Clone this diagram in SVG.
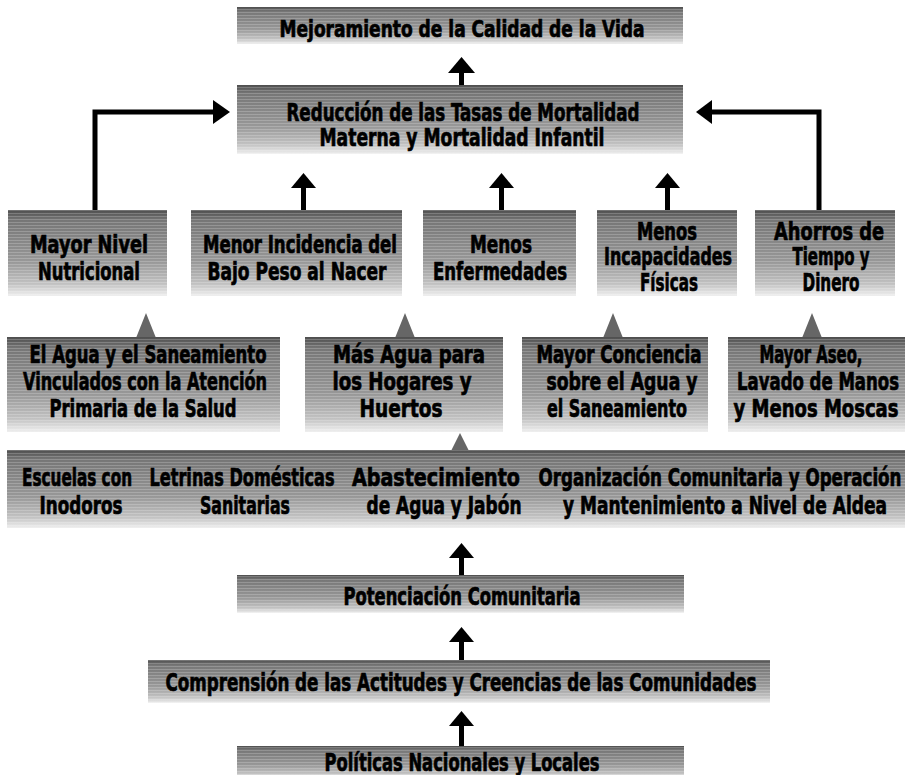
<svg xmlns="http://www.w3.org/2000/svg" width="905" height="775" viewBox="0 0 905 775">
  <defs>
    <!-- screened grey fill used by every box: dark top edge fading out at the bottom -->
    <linearGradient id="screen" x1="0" y1="0" x2="0" y2="1">
      <stop offset="0" stop-color="#4e4e4e"/>
      <stop offset="0.12" stop-color="#767676"/>
      <stop offset="0.6" stop-color="#989898"/>
      <stop offset="0.86" stop-color="#c2c2c2"/>
      <stop offset="1" stop-color="#efefef"/>
    </linearGradient>
    <pattern id="lines" width="4" height="3" patternUnits="userSpaceOnUse">
      <rect width="4" height="1" fill="#ffffff" fill-opacity="0.2"/>
    </pattern>
  </defs>
  <style>
    .box { fill: url(#screen); }
    .tex { fill: url(#lines); }
    .t { font-family: 'Liberation Sans Narrow', 'DejaVu Sans Condensed', 'Liberation Sans', sans-serif; font-weight: bold; font-size: 25px; fill: #000; stroke: #000; stroke-width: 0.7; text-anchor: middle; }
    .t.s { font-size: 23px; }
    .arr { fill: #000; }
    .line { fill: none; stroke: #000; stroke-width: 5; }
    .tri { fill: #666666; }
  </style>
  <rect width="905" height="775" fill="#ffffff"/>

  <!-- connectors -->
  <g id="connectors">
    <!-- top level -->
    <rect class="arr" x="459" y="70" width="5" height="16"/>
    <polygon class="arr" points="461.5,57 448,73 475,73"/>
    <!-- elbow from Mayor Nivel Nutricional -->
    <path class="line" d="M95,211 V112 H215"/>
    <polygon class="arr" points="230,112 213,100 213,124"/>
    <!-- elbow from Ahorros de Tiempo y Dinero -->
    <path class="line" d="M819,211 V112 H710"/>
    <polygon class="arr" points="696,112 712,100 712,124"/>
    <!-- row 3 up arrows -->
    <rect class="arr" x="301" y="185" width="5" height="26"/>
    <polygon class="arr" points="303.5,173 291,188 316,188"/>
    <rect class="arr" x="499" y="185" width="5" height="26"/>
    <polygon class="arr" points="501.5,173 489,188 514,188"/>
    <rect class="arr" x="665" y="185" width="5" height="26"/>
    <polygon class="arr" points="667.5,173 655,188 680,188"/>
    <!-- grey pointers under row 3 -->
    <polygon class="tri" points="146,313 136,338 156,338"/>
    <polygon class="tri" points="405,313 395,338 415,338"/>
    <polygon class="tri" points="613,313 603,338 623,338"/>
    <polygon class="tri" points="812,313 802,338 822,338"/>
    <!-- grey pointer under row 4 -->
    <polygon class="tri" points="460,433 451,451 469,451"/>
    <!-- lower chain -->
    <rect class="arr" x="459" y="555" width="5" height="21"/>
    <polygon class="arr" points="461.5,543 449,558 474,558"/>
    <rect class="arr" x="459" y="640" width="5" height="22"/>
    <polygon class="arr" points="461.5,627 449,642 474,642"/>
    <rect class="arr" x="459" y="724" width="5" height="23"/>
    <polygon class="arr" points="461.5,711 449,726 474,726"/>
  </g>

  <g id="calidad-vida">
    <rect class="box" x="237" y="7" width="446" height="37"/>
    <rect class="tex" x="237" y="7" width="446" height="37"/>
    <text class="t s" x="462" y="37" textLength="365" lengthAdjust="spacingAndGlyphs">Mejoramiento de la Calidad de la Vida</text>
  </g>

  <g id="reduccion-mortalidad">
    <rect class="box" x="237" y="85" width="446" height="69"/>
    <rect class="tex" x="237" y="85" width="446" height="69"/>
    <text class="t" x="463" y="121" textLength="353" lengthAdjust="spacingAndGlyphs">Reducción de las Tasas de Mortalidad</text>
    <text class="t" x="462" y="146" textLength="285" lengthAdjust="spacingAndGlyphs">Materna y Mortalidad Infantil</text>
  </g>

  <g id="nivel-nutricional">
    <rect class="box" x="8" y="210" width="159" height="86"/>
    <rect class="tex" x="8" y="210" width="159" height="86"/>
    <text class="t" x="89" y="253" textLength="118" lengthAdjust="spacingAndGlyphs">Mayor Nivel</text>
    <text class="t" x="89" y="280" textLength="102" lengthAdjust="spacingAndGlyphs">Nutricional</text>
  </g>

  <g id="bajo-peso">
    <rect class="box" x="191" y="210" width="211" height="86"/>
    <rect class="tex" x="191" y="210" width="211" height="86"/>
    <text class="t" x="300" y="253" textLength="194" lengthAdjust="spacingAndGlyphs">Menor Incidencia del</text>
    <text class="t" x="297" y="280" textLength="179" lengthAdjust="spacingAndGlyphs">Bajo Peso al Nacer</text>
  </g>

  <g id="enfermedades">
    <rect class="box" x="423" y="210" width="153" height="86"/>
    <rect class="tex" x="423" y="210" width="153" height="86"/>
    <text class="t" x="501" y="253" textLength="62" lengthAdjust="spacingAndGlyphs">Menos</text>
    <text class="t" x="500" y="280" textLength="134" lengthAdjust="spacingAndGlyphs">Enfermedades</text>
  </g>

  <g id="incapacidades">
    <rect class="box" x="597" y="210" width="140" height="86"/>
    <rect class="tex" x="597" y="210" width="140" height="86"/>
    <text class="t" x="667" y="240" textLength="60" lengthAdjust="spacingAndGlyphs">Menos</text>
    <text class="t" x="668" y="265" textLength="128" lengthAdjust="spacingAndGlyphs">Incapacidades</text>
    <text class="t" x="669" y="291" textLength="58" lengthAdjust="spacingAndGlyphs">Físicas</text>
  </g>

  <g id="ahorros">
    <rect class="box" x="755" y="210" width="140" height="86"/>
    <rect class="tex" x="755" y="210" width="140" height="86"/>
    <text class="t" x="829" y="240" textLength="110" lengthAdjust="spacingAndGlyphs">Ahorros de</text>
    <text class="t" x="831" y="265" textLength="77" lengthAdjust="spacingAndGlyphs">Tiempo y</text>
    <text class="t" x="831" y="291" textLength="57" lengthAdjust="spacingAndGlyphs">Dinero</text>
  </g>

  <g id="atencion-primaria">
    <rect class="box" x="7" y="337" width="273" height="95"/>
    <rect class="tex" x="7" y="337" width="273" height="95"/>
    <text class="t" x="148" y="363" textLength="237" lengthAdjust="spacingAndGlyphs">El Agua y el Saneamiento</text>
    <text class="t" x="145" y="390" textLength="244" lengthAdjust="spacingAndGlyphs">Vinculados con la Atención</text>
    <text class="t" x="143" y="417" textLength="187" lengthAdjust="spacingAndGlyphs">Primaria de la Salud</text>
  </g>

  <g id="agua-hogares">
    <rect class="box" x="305" y="337" width="198" height="95"/>
    <rect class="tex" x="305" y="337" width="198" height="95"/>
    <text class="t" x="409" y="363" textLength="152" lengthAdjust="spacingAndGlyphs">Más Agua para</text>
    <text class="t" x="402" y="390" textLength="139" lengthAdjust="spacingAndGlyphs">los Hogares y</text>
    <text class="t" x="401" y="417" textLength="83" lengthAdjust="spacingAndGlyphs">Huertos</text>
  </g>

  <g id="conciencia">
    <rect class="box" x="522" y="337" width="186" height="95"/>
    <rect class="tex" x="522" y="337" width="186" height="95"/>
    <text class="t" x="619" y="363" textLength="165" lengthAdjust="spacingAndGlyphs">Mayor Conciencia</text>
    <text class="t" x="622" y="390" textLength="151" lengthAdjust="spacingAndGlyphs">sobre el Agua y</text>
    <text class="t" x="617" y="417" textLength="140" lengthAdjust="spacingAndGlyphs">el Saneamiento</text>
  </g>

  <g id="aseo">
    <rect class="box" x="728" y="337" width="177" height="95"/>
    <rect class="tex" x="728" y="337" width="177" height="95"/>
    <text class="t" x="811" y="363" textLength="103" lengthAdjust="spacingAndGlyphs">Mayor Aseo,</text>
    <text class="t" x="818" y="390" textLength="162" lengthAdjust="spacingAndGlyphs">Lavado de Manos</text>
    <text class="t" x="816" y="417" textLength="165" lengthAdjust="spacingAndGlyphs">y Menos Moscas</text>
  </g>

  <g id="intervenciones">
    <rect class="box" x="7" y="450" width="898" height="78"/>
    <rect class="tex" x="7" y="450" width="898" height="78"/>
    <text class="t" x="77" y="486" textLength="110" lengthAdjust="spacingAndGlyphs">Escuelas con</text>
    <text class="t" x="81" y="514" textLength="83" lengthAdjust="spacingAndGlyphs">Inodoros</text>
    <text class="t" x="242" y="486" textLength="185" lengthAdjust="spacingAndGlyphs">Letrinas Domésticas</text>
    <text class="t" x="245" y="514" textLength="90" lengthAdjust="spacingAndGlyphs">Sanitarias</text>
    <text class="t" x="436" y="486" textLength="168" lengthAdjust="spacingAndGlyphs">Abastecimiento</text>
    <text class="t" x="444" y="514" textLength="155" lengthAdjust="spacingAndGlyphs">de Agua y Jabón</text>
    <text class="t" x="720" y="486" textLength="363" lengthAdjust="spacingAndGlyphs">Organización Comunitaria y Operación</text>
    <text class="t" x="725" y="514" textLength="324" lengthAdjust="spacingAndGlyphs">y Mantenimiento a Nivel de Aldea</text>
  </g>

  <g id="potenciacion">
    <rect class="box" x="237" y="575" width="447" height="38"/>
    <rect class="tex" x="237" y="575" width="447" height="38"/>
    <text class="t" x="462" y="605" textLength="237" lengthAdjust="spacingAndGlyphs">Potenciación Comunitaria</text>
  </g>

  <g id="comprension">
    <rect class="box" x="148" y="660" width="622" height="43"/>
    <rect class="tex" x="148" y="660" width="622" height="43"/>
    <text class="t" x="461" y="691" textLength="591" lengthAdjust="spacingAndGlyphs">Comprensión de las Actitudes y Creencias de las Comunidades</text>
  </g>

  <g id="politicas">
    <rect class="box" x="237" y="746" width="447" height="32"/>
    <rect class="tex" x="237" y="746" width="447" height="32"/>
    <text class="t" x="462" y="771" textLength="275" lengthAdjust="spacingAndGlyphs">Políticas Nacionales y Locales</text>
  </g>
</svg>
